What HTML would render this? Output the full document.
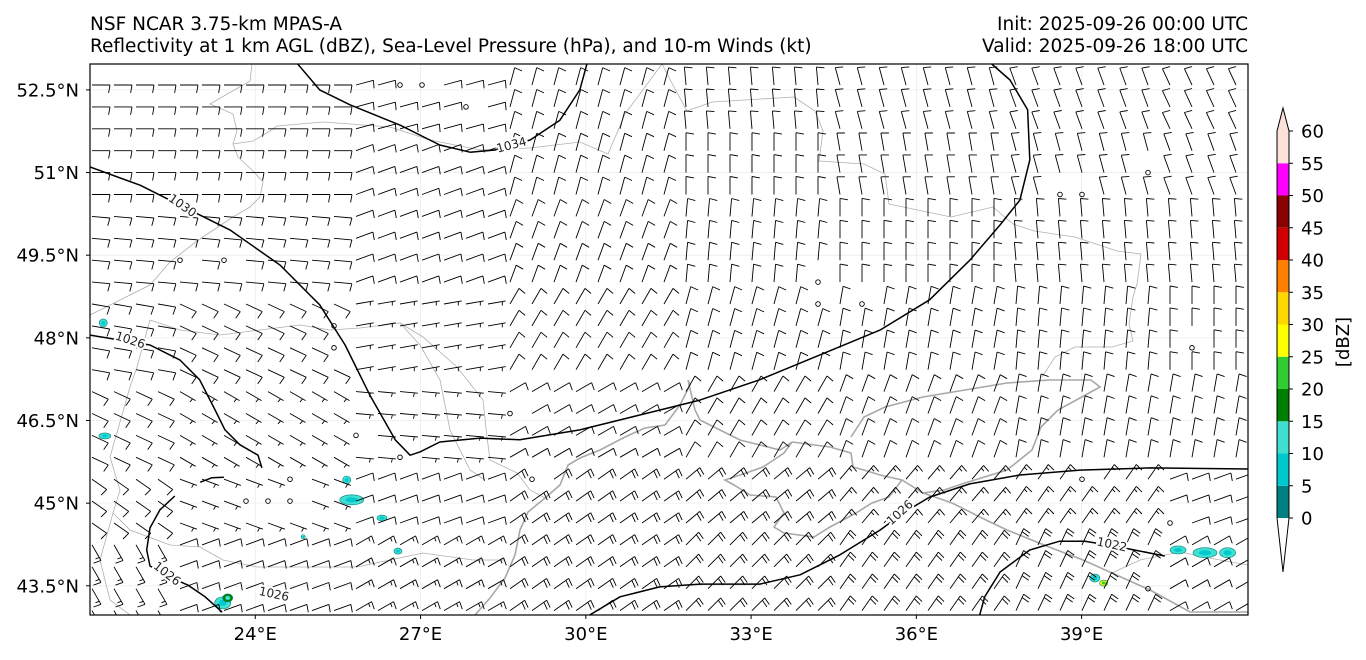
<!DOCTYPE html>
<html><head><meta charset="utf-8"><style>
html,body{margin:0;padding:0;background:#fff;}
svg{display:block;font-family:"DejaVu Sans","Liberation Sans",sans-serif;}
</style></head><body>
<svg id="chart" width="1366" height="660" viewBox="0 0 1366 660" xmlns="http://www.w3.org/2000/svg">
<text x="90" y="30" font-size="18.5">NSF NCAR 3.75-km MPAS-A</text>
<text x="90" y="52" font-size="18.5">Reflectivity at 1 km AGL (dBZ), Sea-Level Pressure (hPa), and 10-m Winds (kt)</text>
<text x="1248" y="30" font-size="18.5" text-anchor="end">Init: 2025-09-26 00:00 UTC</text>
<text x="1248" y="52" font-size="18.5" text-anchor="end">Valid: 2025-09-26 18:00 UTC</text>
<defs><clipPath id="mapclip"><rect x="90" y="64" width="1158" height="551"/></clipPath></defs>
<g id="gridlayer"></g>
<g id="basemap" clip-path="url(#mapclip)" fill="none">
<polyline stroke="#b0b0b0" stroke-width="0.8" points="252,64 250,81 210,104 233,114 237,131 233,144 238,157 253,171 263,182 260,197 250,207 233,217 197,241 170,262 150,285 120,300 100,310 90,315"/>
<polyline stroke="#b0b0b0" stroke-width="0.8" points="233,144 253,141 270,131 277,126 323,122 390,127 430,140 480,150 530,148 580,142 608,154 625,114 662,64"/>
<polyline stroke="#b0b0b0" stroke-width="0.8" points="662,64 674,87 687,111 712,102 794,97 815,111 823,131 819,161 864,164 885,174 889,204 951,217 993,207 1013,224 1034,231 1075,237 1117,251 1141,254 1137,284 1133,297 1129,324 1133,341 1112,347 1075,347 1055,357 1042,377"/>
<polyline stroke="#b0b0b0" stroke-width="0.8" points="150,320 180,330 220,335 260,330 300,325 330,330 360,328 400,323"/>
<polyline stroke="#b0b0b0" stroke-width="0.8" points="400,323 423,337 457,367 483,400 487,437 490,460 517,473 530,490 545,498"/>
<polyline stroke="#b0b0b0" stroke-width="0.8" points="150,320 137,367 130,387 110,457 120,490 113,513 130,530 170,545 200,547 223,560 257,567 357,567 423,553 473,560 505,560"/>
<polyline stroke="#b0b0b0" stroke-width="0.8" points="113,513 100,560 110,600 130,615"/>
<polyline stroke="#b0b0b0" stroke-width="0.8" points="400,323 420,345 440,380 450,430 470,470 485,480"/>
<polyline stroke="#a8a8a8" stroke-width="1.6" points="475,615 490,598 505,578 515,555 520,530 528,512 545,498 560,485 568,465 580,458 600,450 625,437 645,428 665,425 680,405 690,385 688,380 695,410 700,420 720,430 740,440 760,445 780,450 792,442"/>
<polyline stroke="#a8a8a8" stroke-width="1.6" points="792,442 784,453 763,467 746,473 725,480 734,485 750,495 776,497 784,513 774,527 784,533 814,537 830,527 856,513 872,503 889,497 902,480 880,475 864,470 853,467 851,453 830,447 792,442"/>
<polyline stroke="#a8a8a8" stroke-width="1.6" points="851,437 864,417 885,407 923,397 965,390 1007,383 1049,380 1091,380 1100,387 1058,410 1041,427 1032,450 1007,470 965,483 944,490 923,493 902,480"/>
<polyline stroke="#a8a8a8" stroke-width="1.6" points="923,493 952,503 986,520 1007,530 1049,547 1083,560 1112,573 1150,590 1190,612 1248,612"/>
<polyline stroke="#b0b0b0" stroke-width="0.8" points="1112,573 1140,560 1180,552 1220,560 1248,565"/>
</g>
<g id="refl" clip-path="url(#mapclip)"></g>
<g id="barbs" clip-path="url(#mapclip)" stroke="#000" stroke-width="0.9" fill="none"></g>
<g id="isobars" clip-path="url(#mapclip)"></g>
<rect x="90" y="64" width="1158" height="551" fill="none" stroke="#000" stroke-width="1.2"/>
<g id="axes"></g>
<g id="cbar"></g>
</svg>
<script>
// ---- chart data ----
const lonTicks = [24, 27, 30, 33, 36, 39];
const latTicks = [52.5, 51, 49.5, 48, 46.5, 45, 43.5];
const latLabels = ["52.5°N", "51°N", "49.5°N", "48°N", "46.5°N", "45°N", "43.5°N"];
// wind field, coarse cells: rows lat 52.5..43.5 (step 1.5), cols lon 21..42 (step 3)
const windDir = [
  [90, 90, 75, 15, 355, 345, 340, 335],
  [90, 90, 70, 15, 0, 350, 345, 340],
  [95, 95, 70, 20, 5, 0, 355, 355],
  [100, 115, 80, 30, 15, 10, 5, 0],
  [115, 120, 95, 60, 30, 20, 10, 10],
  [125, 110, 70, 55, 50, 40, 35, 70],
  [150, 70, 60, 55, 45, 35, 25, 60]
];
const windSpd = [
  [10, 10, 10, 10, 10, 10, 10, 10],
  [10, 10, 10, 10, 10, 10, 10, 10],
  [10, 10, 10, 10, 10, 10, 10, 10],
  [10, 10, 5, 10, 10, 10, 10, 10],
  [10, 5, 5, 10, 10, 10, 10, 10],
  [10, 5, 10, 20, 20, 15, 15, 10],
  [15, 10, 15, 20, 20, 20, 20, 10]
];
// calm stations (lon, lat)
const calmLon = [26.8, 27.2, 28.0, 25.3, 23.5, 22.6, 24.5, 24.8, 26.0, 26.8, 28.8, 29.2, 23.8, 24.3, 34.2, 35.0, 38.8, 40.2, 39.0, 40.2, 40.6, 40.9];
const calmLat = [52.6, 52.6, 52.2, 48.0, 49.5, 49.5, 45.6, 45.2, 46.4, 46.0, 46.8, 45.3, 45.2, 45.2, 48.8, 48.6, 50.6, 50.9, 45.4, 43.6, 44.8, 47.7];
// reflectivity cells
const reflLon = [21.24, 21.27, 25.66, 25.75, 26.30, 26.59, 24.87, 23.41, 23.50, 39.24, 40.75, 41.24, 41.65, 39.40];
const reflLat = [48.27, 46.22, 45.42, 45.06, 44.73, 44.13, 44.39, 43.19, 43.28, 43.64, 44.15, 44.10, 44.10, 43.55];
const reflRx = [4, 6, 4, 12, 5, 4, 2, 8, 5, 5, 8, 12, 8, 4];
const reflRy = [4, 3, 4, 5, 3, 3, 2, 6, 4, 4, 4, 5, 5, 3];
const reflDbz = [10, 12, 10, 12, 12, 10, 10, 12, 18, 12, 12, 12, 12, 25];
// colorbar
const cbLevels = [0, 5, 10, 15, 20, 25, 30, 35, 40, 45, 50, 55, 60];
const cbColors = ["#008080", "#00c8d0", "#40e0d0", "#008000", "#32cd32", "#ffff00", "#ffd700", "#ff7f00", "#d00000", "#8b0000", "#ff00ff", "#fde0d8"];
// isobars (lon/lat)
const iso1030Lon = [21.00,21.91,22.63,23.54,24.45,25.17,25.63,26.08,26.54,26.81,26.99,27.35,28.08,28.80,29.89,30.98,32.07,33.16,34.25,35.34,36.24,36.97,37.52,37.88,38.06,38.02,37.70,37.37];
const iso1030Lat = [51.10,50.77,50.41,49.96,49.32,48.60,47.87,46.96,46.15,45.87,45.93,46.11,46.18,46.15,46.33,46.60,46.87,47.24,47.69,48.14,48.69,49.41,50.05,50.50,51.23,52.14,52.68,52.97];
const iso1034Lon = [24.77,25.17,25.72,26.63,27.35,27.90,28.35,28.99,29.53,29.89,30.02];
const iso1034Lat = [52.97,52.50,52.23,51.86,51.50,51.37,51.41,51.59,51.95,52.50,52.97];
const iso1026aLon = [21.00,22.09,22.63,22.99,23.27,23.45,23.72,24.05,24.12];
const iso1026aLat = [48.05,47.87,47.60,47.24,46.69,46.33,46.06,45.87,45.64];
const iso1026bLon = [23.00,23.21,23.43];
const iso1026bLat = [45.38,45.46,45.47];
const iso1026cLon = [22.54,22.27,22.09,22.03,22.09,22.40,22.78,23.09,23.40];
const iso1026cLat = [45.13,44.88,44.55,44.15,43.86,43.68,43.51,43.30,43.02];
const iso1026dLon = [30.07,30.62,31.34,32.07,33.16,33.89,34.61,35.34,35.79,36.24,36.97,37.88,38.97,40.24,42.02];
const iso1026dLat = [42.97,43.30,43.48,43.53,43.53,43.70,44.06,44.51,44.84,45.11,45.35,45.51,45.60,45.64,45.62];
const iso1022Lon = [37.15,37.24,37.52,38.06,38.60,39.06,39.60,40.06,40.51];
const iso1022Lat = [42.97,43.30,43.75,44.15,44.31,44.31,44.22,44.13,44.04];
const isoLabelText = ["1030", "1034", "1026", "1026", "1026", "1026", "1022"];
const isoLabelLon = [22.68, 28.65, 21.73, 22.40, 24.34, 35.70, 39.55];
const isoLabelLat = [50.40, 51.50, 47.96, 43.72, 43.35, 44.83, 44.25];
const isoLabelRot = [35, -15, 18, 38, 12, -42, 12];

// ---- axis functions ----
const X0 = 90, X1 = 1248, Y0 = 64, Y1 = 615;
const lonMin = 21.0, lonMax = 42.02, latMin = 42.97, latMax = 52.97;
const xs = lon => X0 + (lon - lonMin) / (lonMax - lonMin) * (X1 - X0);
const ys = lat => Y0 + (latMax - lat) / (latMax - latMin) * (Y1 - Y0);
const cbTop = 131, cbBot = 518, cbX = 1277, cbW = 12;
const cbY = v => cbBot - (v - cbLevels[0]) / (cbLevels[cbLevels.length - 1] - cbLevels[0]) * (cbBot - cbTop);
const NS = "http://www.w3.org/2000/svg";
function mk(tag, attrs, parent) {
  const e = document.createElementNS(NS, tag);
  for (const k in attrs) e.setAttribute(k, attrs[k]);
  parent.appendChild(e);
  return e;
}

// graticule + ticks
const grid = document.getElementById('gridlayer');
const axes = document.getElementById('axes');
lonTicks.forEach((lon, i) => {
  const x = xs(lon);
  const gl = mk('line', {x1: x, x2: x, y1: Y0, y2: Y1, stroke: '#ececec', 'stroke-width': 0.8}, grid);
  
  
  const tk = mk('line', {x1: x, x2: x, y1: Y1, y2: Y1 + 4, stroke: '#000', 'stroke-width': 1}, axes);
  
  
  const t = mk('text', {x: x, y: Y1 + 25, 'font-size': 18, 'text-anchor': 'middle'}, axes);
  
  
  t.textContent = lon + '°E';
});
latTicks.forEach((lat, i) => {
  const y = ys(lat);
  const gl = mk('line', {x1: X0, x2: X1, y1: y, y2: y, stroke: '#ececec', 'stroke-width': 0.8}, grid);
  
  
  const tk = mk('line', {x1: X0 - 4, x2: X0, y1: y, y2: y, stroke: '#000', 'stroke-width': 1}, axes);
  
  
  const t = mk('text', {x: X0 - 11, y: y + 6.5, 'font-size': 18, 'text-anchor': 'end'}, axes);
  
  
  t.textContent = latLabels[i];
});

// reflectivity
function dbzColor(v) {
  for (let i = 0; i < cbColors.length; i++) if (v < cbLevels[i + 1]) return cbColors[i];
  return cbColors[cbColors.length - 1];
}
const refl = document.getElementById('refl');
reflLon.forEach((lon, i) => {
  const e = mk('ellipse', {cx: xs(lon), cy: ys(reflLat[i]), rx: reflRx[i], ry: reflRy[i], fill: dbzColor(reflDbz[i]), stroke: '#008080', 'stroke-width': 0.6}, refl);
  
  
  if (reflDbz[i] >= 10) {
    const c = mk('ellipse', {cx: xs(lon), cy: ys(reflLat[i]), rx: reflRx[i] * 0.5, ry: reflRy[i] * 0.5, fill: dbzColor(reflDbz[i] - 5), stroke: 'none'}, refl);
    
    
  }
});

// wind barbs
const barbs = document.getElementById('barbs');
const L = 18, FL = 8, SP = 3.5;
function isCalm(lon, lat) {
  for (let i = 0; i < calmLon.length; i++) {
    if (Math.abs(calmLon[i] - lon) < 0.22 && Math.abs(calmLat[i] - lat) < 0.22) return true;
  }
  return false;
}
for (let r = 0; r < 26; r++) {
  for (let c = 0; c < 53; c++) {
    const x = 92 + 22 * c, y = 85 + 21.9 * r;
    if (y > Y1) continue;
    const lon = lonMin + (x - X0) / (X1 - X0) * (lonMax - lonMin);
    const lat = latMax - (y - Y0) / (Y1 - Y0) * (latMax - latMin);
    if (isCalm(lon, lat)) {
      const ci = mk('circle', {cx: x, cy: y, r: 2.3}, barbs);
      
      
      continue;
    }
    const ri = Math.max(0, Math.min(6, Math.round((52.5 - lat) / 1.5)));
    const cj = Math.max(0, Math.min(7, Math.round((lon - 21) / 3)));
    const dir = windDir[ri][cj] * Math.PI / 180;
    const spd = windSpd[ri][cj];
    const dx = Math.sin(dir), dy = -Math.cos(dir);
    const tx = x + L * dx, ty = y + L * dy;
    let d = `M${x.toFixed(1)},${y.toFixed(1)}L${tx.toFixed(1)},${ty.toFixed(1)}`;
    const ang = Math.atan2(dy, dx) + 100 * Math.PI / 180;
    const fx = Math.cos(ang), fy = Math.sin(ang);
    let full = Math.floor(spd / 10), half = (spd % 10) >= 5 ? 1 : 0;
    let pos = 0;
    if (full === 0 && half) pos = 1;
    for (let k = 0; k < full; k++) {
      const bx = tx - dx * SP * pos, by = ty - dy * SP * pos;
      d += `M${bx.toFixed(1)},${by.toFixed(1)}l${(fx * FL).toFixed(1)},${(fy * FL).toFixed(1)}`;
      pos++;
    }
    if (half) {
      const bx = tx - dx * SP * pos, by = ty - dy * SP * pos;
      d += `M${bx.toFixed(1)},${by.toFixed(1)}l${(fx * FL / 2).toFixed(1)},${(fy * FL / 2).toFixed(1)}`;
    }
    const p = mk('path', {d: d}, barbs);
    
    
  }
}

// isobars
const iso = document.getElementById('isobars');
[[iso1030Lon, iso1030Lat], [iso1034Lon, iso1034Lat], [iso1026aLon, iso1026aLat], [iso1026bLon, iso1026bLat],
 [iso1026cLon, iso1026cLat], [iso1026dLon, iso1026dLat], [iso1022Lon, iso1022Lat]].forEach(([lo, la]) => {
  const pts = lo.map((v, i) => xs(v).toFixed(1) + ',' + ys(la[i]).toFixed(1)).join(' ');
  const pl = mk('polyline', {points: pts, fill: 'none', stroke: '#000', 'stroke-width': 1.5, 'stroke-linejoin': 'round'}, iso);
  
  
});
isoLabelText.forEach((t, i) => {
  const x = xs(isoLabelLon[i]), y = ys(isoLabelLat[i]);
  const tx = mk('text', {x: x, y: y + 4, 'font-size': 12, 'text-anchor': 'middle', fill: '#222', stroke: '#fff', 'stroke-width': 4, 'paint-order': 'stroke', transform: `rotate(${isoLabelRot[i]} ${x} ${y})`}, iso);
  
  
  tx.textContent = t;
});

// colorbar
const cb = document.getElementById('cbar');
cbColors.forEach((col, i) => {
  const y1 = cbY(cbLevels[i + 1]), y2 = cbY(cbLevels[i]);
  const r = mk('rect', {x: cbX, y: y1, width: cbW, height: y2 - y1, fill: col}, cb);
  
  
});
const under = mk('path', {d: `M${cbX},${cbBot}L${cbX + cbW},${cbBot}L${cbX + cbW / 2},${cbBot + 54}Z`, fill: '#fff'}, cb);


const over = mk('path', {d: `M${cbX},${cbTop}L${cbX + cbW},${cbTop}L${cbX + cbW / 2},${cbTop - 23}Z`, fill: cbColors[cbColors.length - 1]}, cb);


const outline = mk('path', {d: `M${cbX},${cbTop}L${cbX + cbW / 2},${cbTop - 23}L${cbX + cbW},${cbTop}L${cbX + cbW},${cbBot}L${cbX + cbW / 2},${cbBot + 54}L${cbX},${cbBot}Z`, fill: 'none', stroke: '#000', 'stroke-width': 1}, cb);


cbLevels.forEach(v => {
  const y = cbY(v);
  const tk = mk('line', {x1: cbX + cbW, x2: cbX + cbW + 4, y1: y, y2: y, stroke: '#000', 'stroke-width': 1}, cb);
  
  
  const t = mk('text', {x: cbX + cbW + 12, y: y + 6.5, 'font-size': 18}, cb);
  
  
  t.textContent = v;
});
const cbl = mk('text', {x: 1349, y: 342, 'font-size': 18, 'text-anchor': 'middle', transform: 'rotate(-90 1349 342)'}, cb);


cbl.textContent = '[dBZ]';
</script>
</body></html>
